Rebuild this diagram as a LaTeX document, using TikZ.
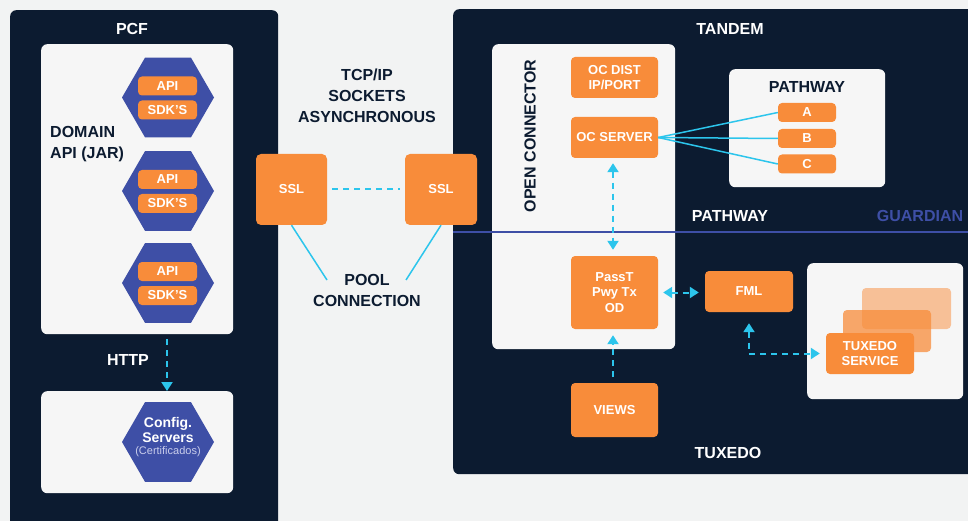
\documentclass[tikz,border=0pt]{standalone}
\usepackage{fontspec}
\setmainfont{Liberation Sans}
\usetikzlibrary{arrows.meta,shapes.geometric}
\definecolor{navy}{HTML}{0C1B30}
\definecolor{orng}{HTML}{F88C3A}
\definecolor{hexblue}{HTML}{3E4FA6}
\definecolor{cyanc}{HTML}{2CC5EC}
\definecolor{boxwhite}{HTML}{F6F6F6}
\definecolor{pagebg}{HTML}{F2F3F3}
\definecolor{lightlav}{HTML}{C9CDEB}
\tikzset{
  darkbox/.style={fill=navy, rounded corners=6pt, anchor=north west, inner sep=0pt},
  whitebox/.style={fill=boxwhite, rounded corners=6pt, anchor=north west, inner sep=0pt},
  obox/.style={fill=orng, rounded corners=4pt, text=white, align=center, inner sep=0pt,
    font=\bfseries\fontsize{13}{15.5}\selectfont},
  hexa/.style={regular polygon, regular polygon sides=6, fill=hexblue, minimum size=92pt, inner sep=0pt},
  bigtxt/.style={font=\bfseries\fontsize{16}{21}\selectfont, align=center, inner sep=0pt},
  dashc/.style={cyanc, line width=2pt, dash pattern=on 6pt off 5pt},
  solidc/.style={cyanc, line width=1.5pt},
  tip/.style={-{Triangle[width=11pt,length=9pt]}},
  dtip/.style={{Triangle[width=11pt,length=9pt]}-{Triangle[width=11pt,length=9pt]}},
}
\begin{document}
\begin{tikzpicture}[x=1pt,y=-1pt]
\useasboundingbox (0,0) rectangle (968,521);
\fill[pagebg] (0,0) rectangle (968,521);

% ---------- PCF ----------
\node[darkbox, minimum width=268pt, minimum height=540pt] (pcf) at (10,10) {};
\node[bigtxt, text=white] (pcft) at (132,29) {PCF};
\node[whitebox, minimum width=192pt, minimum height=290pt] (domw) at (41,44) {};
\node[bigtxt, text=navy, align=left, anchor=west] (dom) at (50,144) {DOMAIN\\API (JAR)};

\foreach \i/\cy in {1/97.5, 2/191, 3/283}{
  \node[hexa] (hex\i) at (168,\cy) {};
  \node[obox, minimum width=59pt, minimum height=19pt] (api\i) at (167.5,\cy-11.5) {API};
  \node[obox, minimum width=59pt, minimum height=19pt] (sdk\i) at (167.5,\cy+12.5) {SDK'S};
}

\node[bigtxt, text=white] (http) at (128,360) {HTTP};
\node[whitebox, minimum width=192pt, minimum height=102pt] (cfgw) at (41,391) {};
\node[hexa] (cfghex) at (168,442) {};
\node[align=center, inner sep=0pt, text=white, font=\bfseries\fontsize{14}{15}\selectfont] (cfgt) at (168,429.5) {Config.\\[0pt]Servers};
\node[inner sep=0pt, text=lightlav, font=\fontsize{11}{12}\selectfont] (cfgc) at (168,452) {(Certificados)};
\draw[dashc, tip] (167,339) -- (cfgw.north -| 167,0);

% ---------- Middle ----------
\node[bigtxt, text=navy] (tcp) at (367,96) {TCP/IP\\SOCKETS\\ASYNCHRONOUS};
\node[bigtxt, text=navy] (pool) at (367,290) {POOL\\CONNECTION};

% ---------- TANDEM ----------
\node[darkbox, minimum width=540pt, minimum height=465pt] (tandem) at (453,9) {};
\node[bigtxt, text=white] (tandt) at (730,29) {TANDEM};
\node[whitebox, minimum width=183pt, minimum height=305pt] (ocw) at (492,44) {};
\node[bigtxt, text=navy, rotate=90] (oclbl) at (530,136) {OPEN CONNECTOR};
\node[obox, minimum width=87pt, minimum height=41pt] (ocdist) at (614.5,77.5) {OC DIST\\IP/PORT};
\node[obox, minimum width=87pt, minimum height=41pt] (ocserver) at (614.5,137.5) {OC SERVER};

\node[whitebox, minimum width=156pt, minimum height=118pt] (pathw) at (729,69) {};
\node[bigtxt, text=navy] (patht) at (807,87) {PATHWAY};
\node[obox, minimum width=58pt, minimum height=19pt] (pa) at (807,112.5) {A};
\node[obox, minimum width=58pt, minimum height=19pt] (pb) at (807,138.5) {B};
\node[obox, minimum width=58pt, minimum height=19pt] (pc) at (807,164) {C};
\draw[solidc] (ocserver.east) -- (pa.west);
\draw[solidc] (ocserver.east) -- (pb.west);
\draw[solidc] (ocserver.east) -- (pc.west);

\node[bigtxt, text=white] (pathlbl) at (730,216) {PATHWAY};
\node[bigtxt, text=hexblue] (guard) at (920,216) {GUARDIAN};
\coordinate (gl) at (453,232);
\coordinate (gr) at (968,232);
\draw[hexblue, line width=1.5pt] (gl) -- (gr);

\node[obox, minimum width=87pt, minimum height=73pt] (passt) at (614.5,292.5) {PassT\\Pwy Tx\\OD};
\node[obox, minimum width=87pt, minimum height=54pt] (views) at (614.5,410) {VIEWS};
\node[obox, minimum width=88pt, minimum height=41pt] (fml) at (749,291.5) {FML};

\node[whitebox, minimum width=156pt, minimum height=136pt] (tuxw) at (807,263) {};
\node[obox, fill opacity=0.5, minimum width=89pt, minimum height=41pt] (card3) at (906.5,308.5) {};
\node[obox, fill opacity=0.75, minimum width=88pt, minimum height=42pt] (card2) at (887,331) {};
\node[obox, minimum width=88pt, minimum height=41pt] (tuxsvc) at (870,353.5) {TUXEDO\\SERVICE};

\node[bigtxt, text=white] (tuxt) at (728,453) {TUXEDO};

% connectors
\draw[dashc, dtip, shorten <=5pt, shorten >=6pt] (ocserver.south -| 613,0) -- (passt.north -| 613,0);
\draw[dashc, tip, shorten <=6pt, shorten >=6pt] (views.north -| 613,0) -- (passt.south -| 613,0);
\draw[dashc, dtip, shorten <=5pt, shorten >=6pt] (passt.east) -- (fml.west |- passt.east);
\draw[dashc, dtip, shorten <=11pt, shorten >=6pt] (fml.south) |- (tuxsvc.west);

% SSL boxes and links
\node[obox, minimum width=71pt, minimum height=71pt, rounded corners=5pt] (sslL) at (291.5,189.5) {SSL};
\node[obox, minimum width=72pt, minimum height=71pt, rounded corners=5pt] (sslR) at (441,189.5) {SSL};
\draw[dashc, shorten <=5pt, shorten >=5pt] (sslL.east) -- (sslR.west);
\coordinate (pl) at (327,280);
\coordinate (pr) at (406,280);
\draw[solidc] (sslL.south) -- (pl);
\draw[solidc] (sslR.south) -- (pr);
\end{tikzpicture}
\end{document}
